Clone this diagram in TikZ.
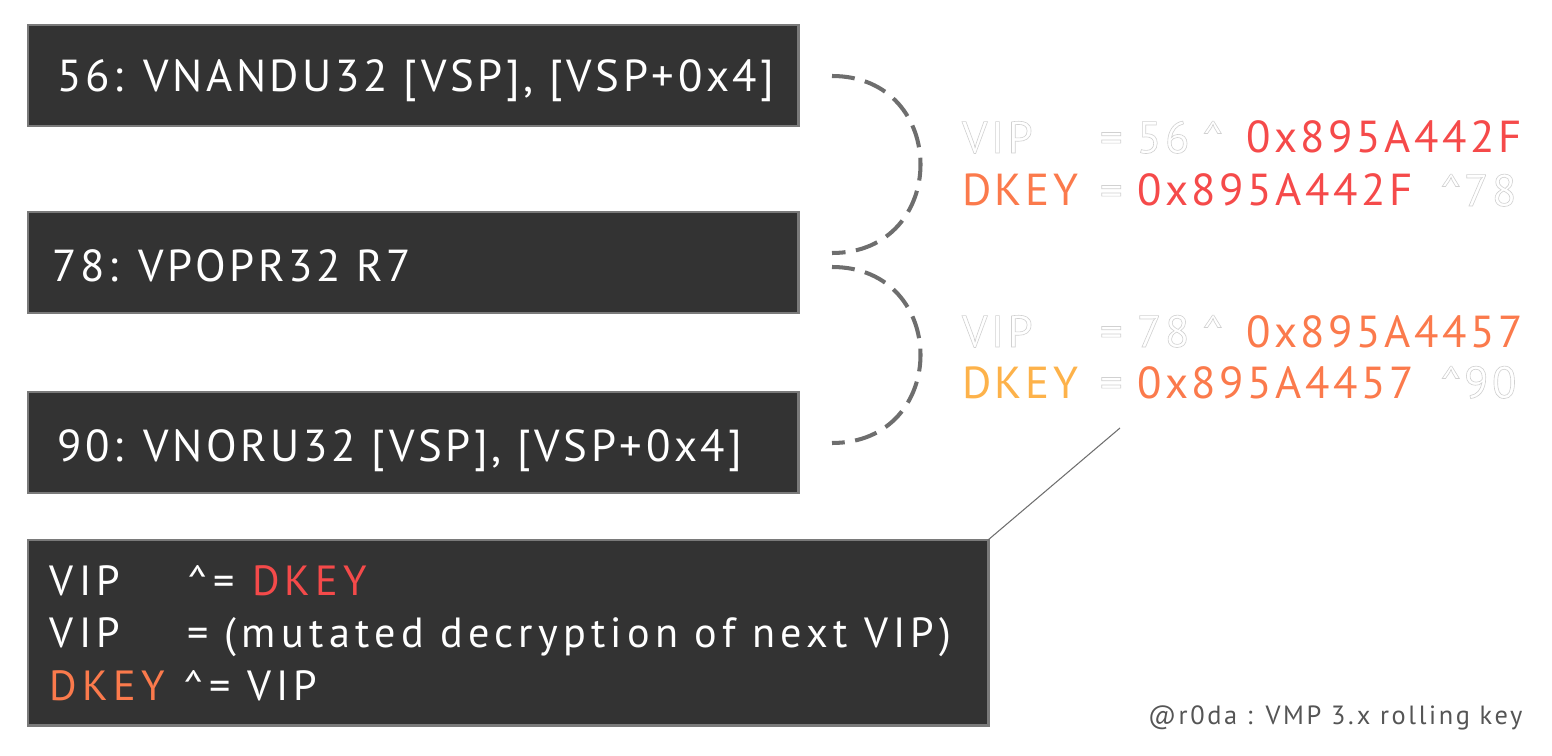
\documentclass[tikz,border=0pt]{standalone}
\usepackage{fontspec}
\setmainfont{PT Sans}[LetterSpace=8]
\definecolor{opfill}{HTML}{333333}
\definecolor{opline}{HTML}{7A7A7A}
\definecolor{linkgray}{HTML}{6E6E6E}
\definecolor{keyred}{HTML}{F54A4A}
\definecolor{keyorange}{HTML}{FB7A4C}
\definecolor{keyyellow}{HTML}{FDB24A}
\definecolor{footgray}{HTML}{555555}
% white text with a thin grey outline (text render mode 2)
\newcommand{\ghosttext}[1]{\special{pdf:code 2 Tr 0.35 w 0.82 G}#1\special{pdf:code 0 Tr}}
\newcommand{\xorop}{\textasciicircum}

\begin{document}
\begin{tikzpicture}[x=0.2mm,y=-0.2mm,
        every node/.style={inner sep=0pt,outer sep=0pt},
        opbox/.style={draw=opline,fill=opfill,line width=1.7pt,rectangle,anchor=north west},
        optext/.style={anchor=base west,text=white,font=\fontsize{25.5}{30}\selectfont},
        ruletext/.style={anchor=base west,text=white,font=\fontsize{24}{28}\selectfont\addfontfeatures{LetterSpace=12.5}},
        calc/.style={anchor=base west,text=white,font=\fontsize{25.5}{30}\selectfont},
        link/.style={draw=linkgray,line width=2.3pt,dash pattern=on 13pt off 6pt}]

    \useasboundingbox (0,0) rectangle (1552,756);

    % handler boxes
    \node[opbox,minimum width=154mm,minimum height=20.2mm] (nand) at (28,25) {};
    \node[opbox,minimum width=154mm,minimum height=20.2mm] (popr) at (28,212) {};
    \node[opbox,minimum width=154mm,minimum height=20.2mm] (nor) at (28,392) {};
    \node[opbox,minimum width=192mm,minimum height=37mm] (rule) at (28,540) {};

    \node[optext] (nandtxt) at (57,92) {56: VNANDU32 [VSP], [VSP+0x4]};
    \node[optext] (poprtxt) at (52,281) {78: VPOPR32 R7};
    \node[optext] (nortxt) at (57,461) {90: VNORU32 [VSP], [VSP+0x4]};

    % rolling key rule
    \node[ruletext] (vipa) at (50,595) {VIP};
    \node[ruletext] (xora) at (187,595) {\xorop=};
    \node[ruletext,text=keyred] (keya) at (252,595) {DKEY};
    \node[ruletext] (vipb) at (50,647) {VIP};
    \node[ruletext] (eqb) at (187,647) {= (mutated decryption of next VIP)};
    \node[ruletext,text=keyorange] (keyc) at (50,700) {DKEY};
    \node[ruletext] (xorc) at (183,700) {\xorop= VIP};

    % first step
    \node[calc] (vip1) at (962,153) {\ghosttext{VIP}};
    \node[calc] (vip1eq) at (1100,153) {\ghosttext{=}};
    \node[calc] (vip1op) at (1137,153) {\ghosttext{56}};
    \node[calc] (vip1xor) at (1202,153) {\ghosttext{\xorop}};
    \node[calc,text=keyred] (vip1key) at (1246,153) {0x895A442F};
    \node[calc,text=keyorange] (key1) at (962,206) {DKEY};
    \node[calc] (key1eq) at (1100,206) {\ghosttext{=}};
    \node[calc,text=keyred] (key1val) at (1137,206) {0x895A442F};
    \node[calc] (key1xor) at (1440,206) {\ghosttext{\xorop}};
    \node[calc] (key1op) at (1464,206) {\ghosttext{78}};

    % second step
    \node[calc] (vip2) at (962,347) {\ghosttext{VIP}};
    \node[calc] (vip2eq) at (1100,347) {\ghosttext{=}};
    \node[calc] (vip2op) at (1137,347) {\ghosttext{78}};
    \node[calc] (vip2xor) at (1202,347) {\ghosttext{\xorop}};
    \node[calc,text=keyorange] (vip2key) at (1246,347) {0x895A4457};
    \node[calc,text=keyyellow] (key2) at (962,398) {DKEY};
    \node[calc] (key2eq) at (1100,398) {\ghosttext{=}};
    \node[calc,text=keyorange] (key2val) at (1137,398) {0x895A4457};
    \node[calc] (key2xor) at (1440,398) {\ghosttext{\xorop}};
    \node[calc] (key2op) at (1464,398) {\ghosttext{90}};

    % dashed links
    \coordinate (nandend) at (832,76);
    \coordinate (poprtop) at (832,253);
    \coordinate (poprbot) at (832,267);
    \coordinate (norend) at (832,443);
    \draw[link] (nandend) .. controls (950,76) and (950,253) .. (poprtop);
    \draw[link] (poprbot) .. controls (950,267) and (950,443) .. (norend);

    \coordinate (calcpin) at (1120,428);
    \draw[linkgray,line width=0.6pt] (rule.north east) -- (calcpin);

    \node[anchor=base west,text=footgray,font=\fontsize{15}{17}\selectfont\addfontfeatures{LetterSpace=10}] (credit) at (1148,724) {@r0da : VMP 3.x rolling key};

\end{tikzpicture}
\end{document}
